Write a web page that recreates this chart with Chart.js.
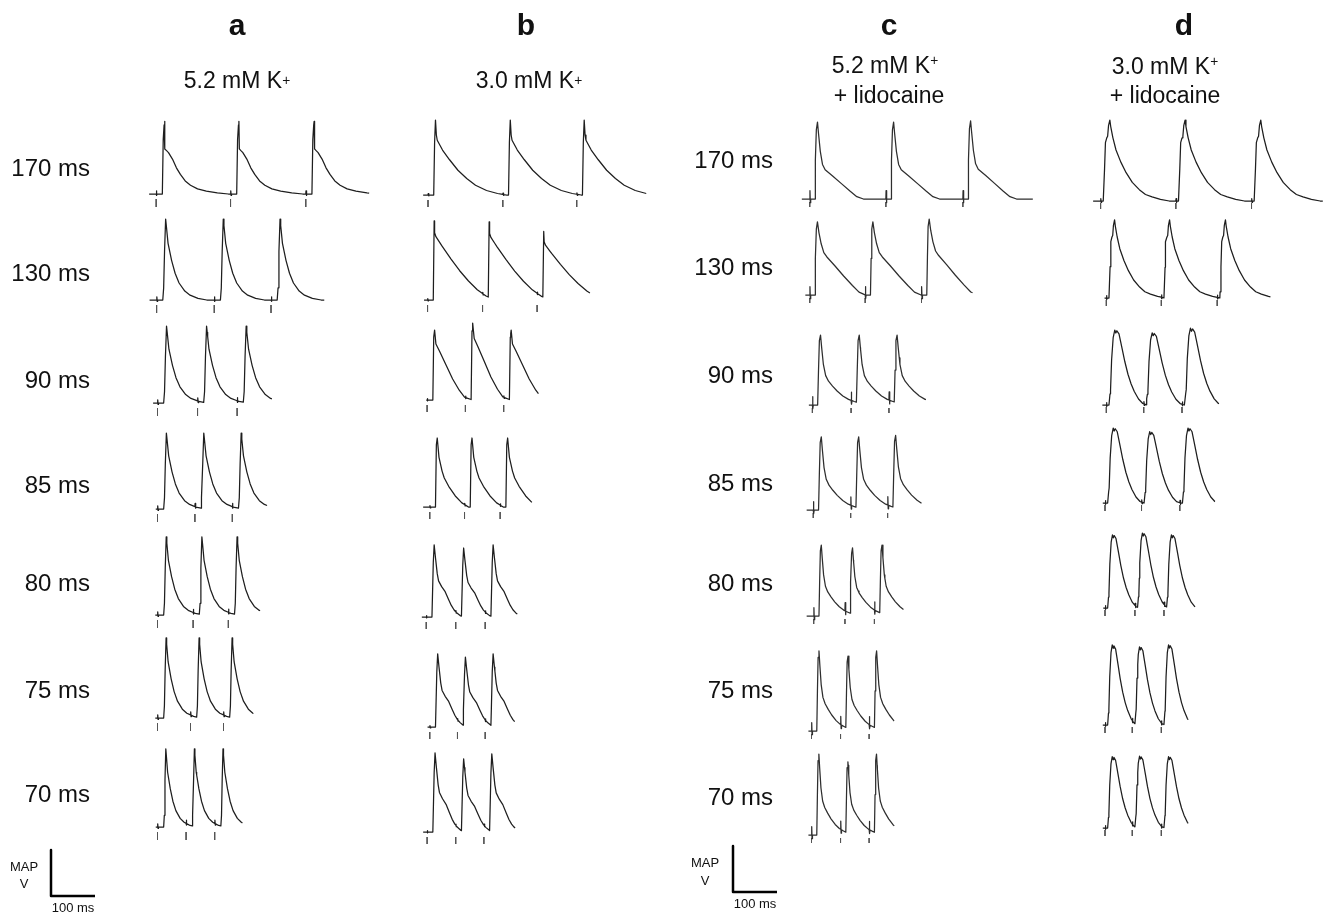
<!DOCTYPE html>
<html>
<head>
<meta charset="utf-8">
<script src="https://cdn.jsdelivr.net/npm/chart.js@4.4.1/dist/chart.umd.min.js"></script>
<style>
  body { margin: 0; background: #fff; width: 1326px; height: 913px; position: relative; overflow: hidden;
         font-family: Arial, "Liberation Sans", Helvetica, sans-serif; color: #111; }
  canvas { position: absolute; top: 0; }
  .lbl { position: absolute; white-space: nowrap; line-height: 1; transform: translate(-50%, -50%); }
  .right { transform: translate(-100%, -50%); }
  .head { font-weight: bold; font-size: 30px; }
  .sub { font-size: 23px; }
  .row { font-size: 24px; }
  .small { font-size: 13px; }
  .plus { font-size: 60%; vertical-align: 0.2em; }
  sup { font-size: 60%; vertical-align: 0.55em; line-height: 0; }
</style>
</head>
<body>
<script>
// ---- data -------------------------------------------------------------
const conditions = ['a', 'b', 'c', 'd'];
const cycleLabels = ['170 ms', '130 ms', '90 ms', '85 ms', '80 ms', '75 ms', '70 ms'];

// stimulus times (ms) for each row, per condition
const stimsA = [[-3, 166, 337], [-2, 129, 258], [0, 91, 181], [0, 85, 170], [0, 81, 161], [0, 75, 150], [0, 65, 130]];
const stimsB = [[0, 170, 338], [-1, 124, 248], [-2, 85, 172], [4, 83, 164], [-4, 63, 130], [4, 67, 130], [-2, 63, 127]];
const stimsC = [[-4, 169, 344], [-4, 122, 250], [2, 90, 176], [4, 89, 173], [5, 76, 143], [0, 66, 131], [0, 66, 131]];
const stimsD = [[-10, 161, 333], [3, 128, 255], [3, 88, 175], [0, 83, 170], [0, 68, 134], [0, 62, 128], [0, 62, 128]];

// recorded sweep (start, end) in ms
const sweepA = [[-19, 481], [-18, 379], [-10, 260], [-4, 249], [-5, 232], [-5, 218], [-4, 193]];
const sweepB = [[-11, 496], [-9, 368], [-4, 251], [-11, 236], [-14, 203], [-1, 197], [-11, 197]];
const sweepC = [[-22, 503], [-14, 366], [-6, 259], [-11, 250], [-11, 209], [-7, 188], [-7, 188]];
const sweepD = [[-27, 495], [-1, 376], [-6, 258], [-5, 250], [-4, 205], [-5, 189], [-5, 189]];

// peak MAP amplitude of each beat (scale-bar units)
const ampA = [[1.58, 1.58, 1.58], [1.76, 1.76, 1.76], [1.67, 1.67, 1.67], [1.65, 1.65, 1.65], [1.70, 1.70, 1.70], [1.74, 1.74, 1.74], [1.70, 1.70, 1.70]];
const ampB = [[1.63, 1.63, 1.63], [1.72, 1.70, 1.49], [1.52, 1.67, 1.52], [1.50, 1.50, 1.50], [1.57, 1.50, 1.57], [1.59, 1.52, 1.59], [1.72, 1.59, 1.70]];
const ampC = [[1.67, 1.67, 1.70], [1.59, 1.59, 1.65], [1.52, 1.52, 1.52], [1.59, 1.59, 1.62], [1.54, 1.48, 1.54], [1.74, 1.63, 1.74], [1.76, 1.59, 1.76]];
const ampD = [[1.76, 1.76, 1.76], [1.70, 1.70, 1.70], [1.63, 1.57, 1.67], [1.63, 1.55, 1.63], [1.59, 1.63, 1.59], [1.74, 1.70, 1.74], [1.55, 1.56, 1.55]];

// beat shapes: [ms after upstroke, fraction of peak]
const beatALong = [[0, 0], [2, 0.75], [4, 0.95], [5, 1.0], [6, 0.62], [9, 0.6], [14, 0.57], [23, 0.48], [32, 0.36], [41, 0.27], [52, 0.18], [64, 0.12], [80, 0.07], [100, 0.04], [125, 0.015], [150, 0]];
const beatAShort = [[0, 0], [2, 0.15], [4, 0.6], [6.5, 1.0], [8, 0.92], [12, 0.7], [20, 0.49], [28, 0.33], [37, 0.21], [50, 0.11], [62, 0.06], [80, 0.02], [100, 0]];
const beatBLong = [[0, 0], [2, 0.7], [4, 1.0], [6, 0.8], [8, 0.73], [20, 0.6], [36, 0.47], [55, 0.33], [75, 0.22], [95, 0.13], [120, 0.06], [145, 0.02], [165, 0]];
const beatBMid = [[0, 0], [2, 1.0], [3, 0.85], [6, 0.8], [20, 0.68], [40, 0.52], [60, 0.37], [80, 0.24], [100, 0.13], [120, 0.05], [140, 0]];
const beatB90 = [[0, 0], [2, 0.9], [4, 1.0], [7, 0.8], [15, 0.7], [30, 0.5], [45, 0.3], [60, 0.14], [72, 0.04], [90, 0]];
const beatB85 = [[0, 0], [2, 0.9], [4, 1.0], [8, 0.72], [15, 0.52], [20, 0.42], [30, 0.3], [45, 0.16], [60, 0.06], [75, 0]];
const beatBShort = [[0, 0], [3, 0.75], [5, 1.0], [8, 0.82], [12, 0.6], [15, 0.5], [22, 0.42], [30, 0.35], [38, 0.24], [44, 0.16], [50, 0.1], [56, 0.06], [64, 0.02], [72, 0]];
const beatCLong = [[0, 0], [1.5, 0.5], [3, 0.9], [5.6, 1.0], [8, 0.85], [12, 0.62], [17, 0.45], [23, 0.38], [40, 0.3], [60, 0.2], [80, 0.1], [95, 0.03], [110, 0]];
const beatCMid = [[0, 0], [1.5, 0.5], [3, 0.9], [5.5, 1.0], [9, 0.85], [14, 0.7], [20, 0.58], [27, 0.52], [45, 0.4], [65, 0.26], [85, 0.13], [100, 0.04], [115, 0]];
const beatCShort = [[0, 0], [1.5, 0.5], [3, 0.92], [5, 1.0], [7, 0.82], [10, 0.58], [14, 0.42], [19, 0.34], [26, 0.27], [34, 0.2], [44, 0.13], [54, 0.08], [64, 0.05], [75, 0.02], [85, 0]];
const beatDLong = [[0, 0], [3, 0.4], [5, 0.72], [8, 0.78], [10, 0.8], [12, 0.93], [15, 1.0], [17, 0.92], [22, 0.78], [29, 0.63], [40, 0.48], [52, 0.35], [66, 0.23], [82, 0.14], [96, 0.08], [111, 0.05], [130, 0.02], [150, 0]];
const beatDShort = [[0, 0], [2, 0.15], [3, 0.2], [5, 0.6], [8, 0.9], [11, 1.0], [13, 0.96], [15, 0.99], [19, 0.95], [22, 0.85], [25, 0.75], [30, 0.58], [36, 0.41], [42, 0.28], [48, 0.18], [56, 0.08], [64, 0.02], [72, 0]];

const shapesA = [beatALong, beatAShort, beatAShort, beatAShort, beatAShort, beatAShort, beatAShort];
const shapesB = [beatBLong, beatBMid, beatB90, beatB85, beatBShort, beatBShort, beatBShort];
const shapesC = [beatCLong, beatCMid, beatCShort, beatCShort, beatCShort, beatCShort, beatCShort];
const shapesD = [beatDLong, beatDLong, beatDShort, beatDShort, beatDShort, beatDShort, beatDShort];

// relative beat duration per row
const stretchA = [1, 1, 1, 0.95, 0.9, 0.85, 0.75];
const stretchB = [1, 1, 1, 1, 1, 1, 1];
const stretchC = [1, 1, 1.3, 1.25, 1.05, 1, 0.95];
const stretchD = [1, 0.85, 1.2, 1.15, 1, 0.95, 0.95];

// stimulus-to-upstroke delay (ms) and stimulus artefact size (up, down)
const upstrokeDelay = [14, 13, 12, 6];
const artefact = [[0.07, -0.03], [0.03, -0.02], [0.18, -0.08], [0.05, -0.03]];

// ---- layout -----------------------------------------------------------
const PX_PER_MS = 0.44;
const PX_PER_UNIT = 46;
const PAGE_H = 913;
const canvasBox = [[0, 390], [390, 663], [663, 1060], [1060, 1326]];
const firstStimX = [157.5, 428, 811.5, 1105];
const baselineY = [
  [194, 300, 403, 509, 615, 718, 827],
  [195, 300, 400, 507, 617, 727, 832],
  [199, 295, 405, 510, 616, 731, 835],
  [201, 298, 405, 503, 608, 725, 828]
];
const tickGap = [[5, 13], [5, 12], [3, 8], [2, 8]];
const scaleBar = [[51, 896], null, [733, 892], null];
const traceColor = ['#1e1e1e', '#1e1e1e', '#2e2e2e', '#1e1e1e'];

const stimsAll = [stimsA, stimsB, stimsC, stimsD];
const sweepAll = [sweepA, sweepB, sweepC, sweepD];
const ampAll = [ampA, ampB, ampC, ampD];
const shapesAll = [shapesA, shapesB, shapesC, shapesD];
const stretchAll = [stretchA, stretchB, stretchC, stretchD];

function sampleShape(shape, t) {
  if (t <= shape[0][0]) return shape[0][1];
  for (let i = 1; i < shape.length; i++) {
    if (t <= shape[i][0]) {
      const [t0, v0] = shape[i - 1], [t1, v1] = shape[i];
      return v0 + (v1 - v0) * (t - t0) / (t1 - t0);
    }
  }
  return shape[shape.length - 1][1];
}

function tracePoints(ci, r, base) {
  const stims = stimsAll[ci][r], amps = ampAll[ci][r], sweep = sweepAll[ci][r];
  const k = stretchAll[ci][r];
  const shape = shapesAll[ci][r].map(p => [p[0] * k, p[1]]);
  const onsets = stims.map(s => s + upstrokeDelay[ci]);
  const peakT = shape.reduce((m, p) => (p[1] > m[1] ? p : m))[0];

  const level = t => {
    let b = -1;
    onsets.forEach((o, i) => { if (t >= o) b = i; });
    if (b < 0) return 0;
    let v = amps[b] * sampleShape(shape, t - onsets[b]);
    if (b > 0 && t - onsets[b] < peakT) v = Math.max(v, amps[b - 1] * sampleShape(shape, t - onsets[b - 1]));
    return v;
  };

  const extra = new Map();
  let times = [sweep[0], sweep[1]];
  stims.forEach(s => {
    times.push(s, s + 2.2);
    times.push(s + 0.5); extra.set(s + 0.5, artefact[ci][0]);
    times.push(s + 1.3); extra.set(s + 1.3, artefact[ci][1]);
  });
  onsets.forEach(o => {
    times.push(o - 0.01);
    shape.forEach(p => times.push(o + p[0]));
  });
  times = [...new Set(times)].filter(t => t >= sweep[0] && t <= sweep[1]).sort((a, b) => a - b);
  return times.map(t => ({ x: t, y: base + level(t) + (extra.get(t) || 0) }));
}

function makeChart(ci) {
  const [left, right] = canvasBox[ci];
  const cv = document.createElement('canvas');
  cv.width = right - left;
  cv.height = PAGE_H;
  cv.style.left = left + 'px';
  document.body.appendChild(cv);

  const datasets = [];
  cycleLabels.forEach((lab, r) => {
    const base = (PAGE_H - baselineY[ci][r]) / PX_PER_UNIT;
    datasets.push({ label: conditions[ci] + ' ' + lab, data: tracePoints(ci, r, base),
                    borderColor: traceColor[ci], borderWidth: 1.25 });
    const ticks = [];
    stimsAll[ci][r].forEach(s => {
      ticks.push({ x: s, y: base - tickGap[ci][0] / PX_PER_UNIT },
                 { x: s, y: base - tickGap[ci][1] / PX_PER_UNIT },
                 { x: s, y: null });
    });
    datasets.push({ label: 'stim', data: ticks, borderColor: '#555', borderWidth: 1 });
  });

  if (scaleBar[ci]) {
    const [bx, by] = scaleBar[ci];
    const x0 = (bx - firstStimX[ci]) / PX_PER_MS;
    const y0 = (PAGE_H - by) / PX_PER_UNIT;
    datasets.push({ label: 'scale', data: [{ x: x0, y: y0 + 1 }, { x: x0, y: y0 }, { x: x0 + 100, y: y0 }],
                    borderColor: '#000', borderWidth: 2.5 });
  }

  new Chart(cv, {
    type: 'line',
    data: { datasets },
    options: {
      responsive: false,
      animation: false,
      events: [],
      layout: { padding: 0 },
      elements: { point: { radius: 0 }, line: { tension: 0, borderJoinStyle: 'round' } },
      plugins: { legend: { display: false }, tooltip: { enabled: false } },
      scales: {
        x: { type: 'linear', display: false,
             min: (left - firstStimX[ci]) / PX_PER_MS, max: (right - firstStimX[ci]) / PX_PER_MS },
        y: { type: 'linear', display: false, min: 0, max: PAGE_H / PX_PER_UNIT }
      }
    }
  });
}

conditions.forEach((c, ci) => makeChart(ci));

// ---- text -------------------------------------------------------------
function label(html, x, y, cls) {
  const d = document.createElement('div');
  d.className = 'lbl ' + cls;
  d.innerHTML = html;
  d.style.left = x + 'px';
  d.style.top = y + 'px';
  document.body.appendChild(d);
}
const headX = [237, 526, 889, 1184];
conditions.forEach((c, i) => label(c, headX[i], 25, 'head'));
label('5.2 mM K<span class="plus">+</span>', 237, 80, 'sub');
label('3.0 mM K<span class="plus">+</span>', 529, 80, 'sub');
label('5.2 mM K<sup>+</sup>', 885, 65, 'sub');
label('+ lidocaine', 889, 95, 'sub');
label('3.0 mM K<sup>+</sup>', 1165, 66, 'sub');
label('+ lidocaine', 1165, 95, 'sub');

const rowYLeft = [168, 273, 380, 485, 583, 690, 794];
const rowYRight = [160, 267, 375, 483, 583, 690, 797];
cycleLabels.forEach((lab, r) => {
  label(lab, 90, rowYLeft[r], 'row right');
  label(lab, 773, rowYRight[r], 'row right');
});

label('MAP', 24, 866, 'small');
label('V', 24, 883, 'small');
label('100 ms', 73, 907, 'small');
label('MAP', 705, 862, 'small');
label('V', 705, 880, 'small');
label('100 ms', 755, 903, 'small');
</script>
</body>
</html>
